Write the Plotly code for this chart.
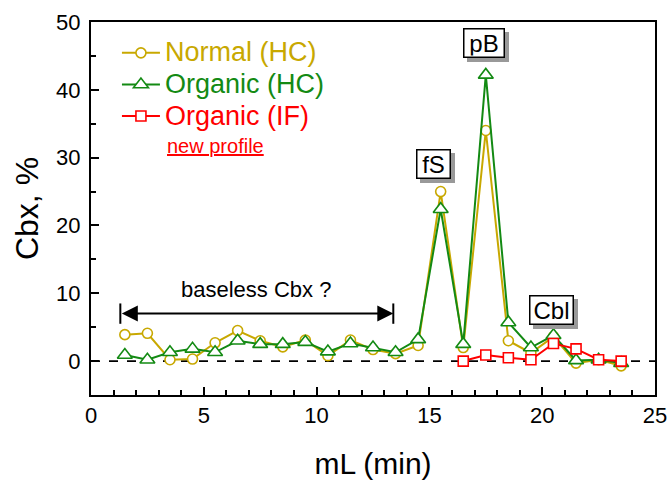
import plotly.graph_objects as go

# ---- data ----
x_ml = [1.5, 2.5, 3.5, 4.5, 5.5, 6.5, 7.5, 8.5, 9.5, 10.5, 11.5, 12.5,
        13.5, 14.5, 15.5, 16.5, 17.5, 18.5, 19.5, 20.5, 21.5, 22.5, 23.5]
normal_hc = [3.9, 4.1, 0.2, 0.3, 2.7, 4.5, 3.0, 2.1, 3.1, 0.8, 3.1, 1.7,
             1.1, 2.3, 25.0, 2.0, 34.0, 3.0, 1.2, 3.6, -0.3, 0.2, -0.7]
organic_hc = [0.9, 0.2, 1.3, 1.8, 1.3, 3.0, 2.5, 2.5, 2.8, 1.4, 2.6, 2.0,
              1.3, 3.2, 22.4, 2.5, 42.2, 5.7, 2.0, 3.8, 0.1, 0.2, -0.3]
x_if = [16.5, 17.5, 18.5, 19.5, 20.5, 21.5, 22.5, 23.5]
organic_if = [0.0, 0.9, 0.5, 0.2, 2.6, 1.8, 0.2, 0.0]

series_names = ["Normal (HC)", "Organic (HC)", "Organic (IF)"]
series_colors = ["#C8A800", "#138A13", "#FF0000"]
series_symbols = ["circle", "triangle-up", "square"]

peak_labels = ["fS", "pB", "Cbl"]
peak_x = [15.2, 17.4, 20.4]
peak_y = [29.0, 46.9, 7.6]

arrow_x = [1.3, 13.4]
arrow_y = 7.0
baseless_text = "baseless Cbx ?"
baseless_pos = (7.3, 10.6)

x_range = [0, 25]
y_range = [-5, 50]

FONT = "Liberation Sans, Arial, sans-serif"

fig = go.Figure()
xs = [x_ml, x_ml, x_if]
ys = [normal_hc, organic_hc, organic_if]
sizes = [10, 13, 10]
for name, col, sym, xx, yy, sz in zip(series_names, series_colors, series_symbols, xs, ys, sizes):
    fig.add_trace(go.Scatter(
        x=xx, y=yy, mode="lines+markers",
        name=f"<span style='color:{col};font-size:27px'>{name}</span>",
        line=dict(color=col, width=2),
        marker=dict(symbol=sym, size=sz, color="white",
                    line=dict(color=col, width=1.6)),
    ))

# dashed zero line
fig.add_shape(type="line", xref="x", yref="y", x0=x_range[0], x1=x_range[1],
              y0=0, y1=0, line=dict(color="black", width=1.6, dash="dash"),
              layer="below")

# peak labels with drop shadow
box_w = [30, 37, 40]
box_h = [25, 25, 25]
for lab, px, py, bw_, bh_ in zip(peak_labels, peak_x, peak_y, box_w, box_h):
    fig.add_annotation(x=px, y=py, text=" ", showarrow=False,
                       width=bw_, height=bh_,
                       font=dict(family=FONT, size=24, color="#999999"),
                       bgcolor="#999999", bordercolor="#999999", borderwidth=1.5,
                       borderpad=1, xshift=4, yshift=-4)
    fig.add_annotation(x=px, y=py, text=lab, showarrow=False,
                       width=bw_, height=bh_,
                       font=dict(family=FONT, size=24, color="black"),
                       bgcolor="white", bordercolor="black", borderwidth=1.5,
                       borderpad=1)

# double-headed arrow
fig.add_annotation(x=arrow_x[1], y=arrow_y, ax=arrow_x[0], ay=arrow_y,
                   xref="x", yref="y", axref="x", ayref="y", text="",
                   showarrow=True, arrowhead=2, startarrowhead=2,
                   arrowside="end+start", arrowsize=1.6, startarrowsize=1.6,
                   arrowwidth=2, arrowcolor="black")
for ex in arrow_x:
    fig.add_shape(type="line", xref="x", yref="y", x0=ex, x1=ex,
                  y0=arrow_y - 1.5, y1=arrow_y + 1.5,
                  line=dict(color="black", width=2))
fig.add_annotation(x=baseless_pos[0], y=baseless_pos[1], text=baseless_text,
                   showarrow=False, font=dict(family=FONT, size=22, color="black"))

# "new profile" note
fig.add_annotation(xref="paper", yref="paper", x=0.131, y=0.667,
                   xanchor="left", yanchor="middle",
                   text="<u>new profile</u>", showarrow=False,
                   font=dict(family=FONT, size=20, color="#FF0000"))

axis_common = dict(showline=True, linecolor="black", linewidth=2, mirror=True,
                   ticks="inside", ticklen=8, tickwidth=1.5, tickcolor="black",
                   showgrid=False, zeroline=False, automargin=False,
                   ticklabeloverflow="allow",
                   tickfont=dict(family=FONT, size=22, color="black"))
fig.update_xaxes(range=x_range, dtick=5,
                 minor=dict(dtick=1, ticks="inside", ticklen=5, tickwidth=1.5,
                            tickcolor="black"),
                 title=dict(text="mL (min)", font=dict(family=FONT, size=30),
                            standoff=27),
                 **axis_common)
fig.update_yaxes(range=y_range, tickvals=[0, 10, 20, 30, 40, 50],
                 minor=dict(tickvals=[-5, 5, 15, 25, 35, 45], ticks="inside",
                            ticklen=5, tickwidth=1.5, tickcolor="black"),
                 ticklabelstandoff=4,
                 title=dict(text="Cbx, %", font=dict(family=FONT, size=32),
                            standoff=8),
                 **axis_common)

fig.update_layout(
    width=667, height=480,
    margin=dict(l=91, r=12, t=22, b=85, autoexpand=False),
    plot_bgcolor="white", paper_bgcolor="white",
    font=dict(family=FONT, color="black"),
    legend=dict(x=0.046, y=0.973, xanchor="left", yanchor="top",
                bgcolor="rgba(0,0,0,0)", font=dict(family=FONT, size=22),
                tracegroupgap=0, itemwidth=38),
    showlegend=True,
)

fig.write_html("out.html")
